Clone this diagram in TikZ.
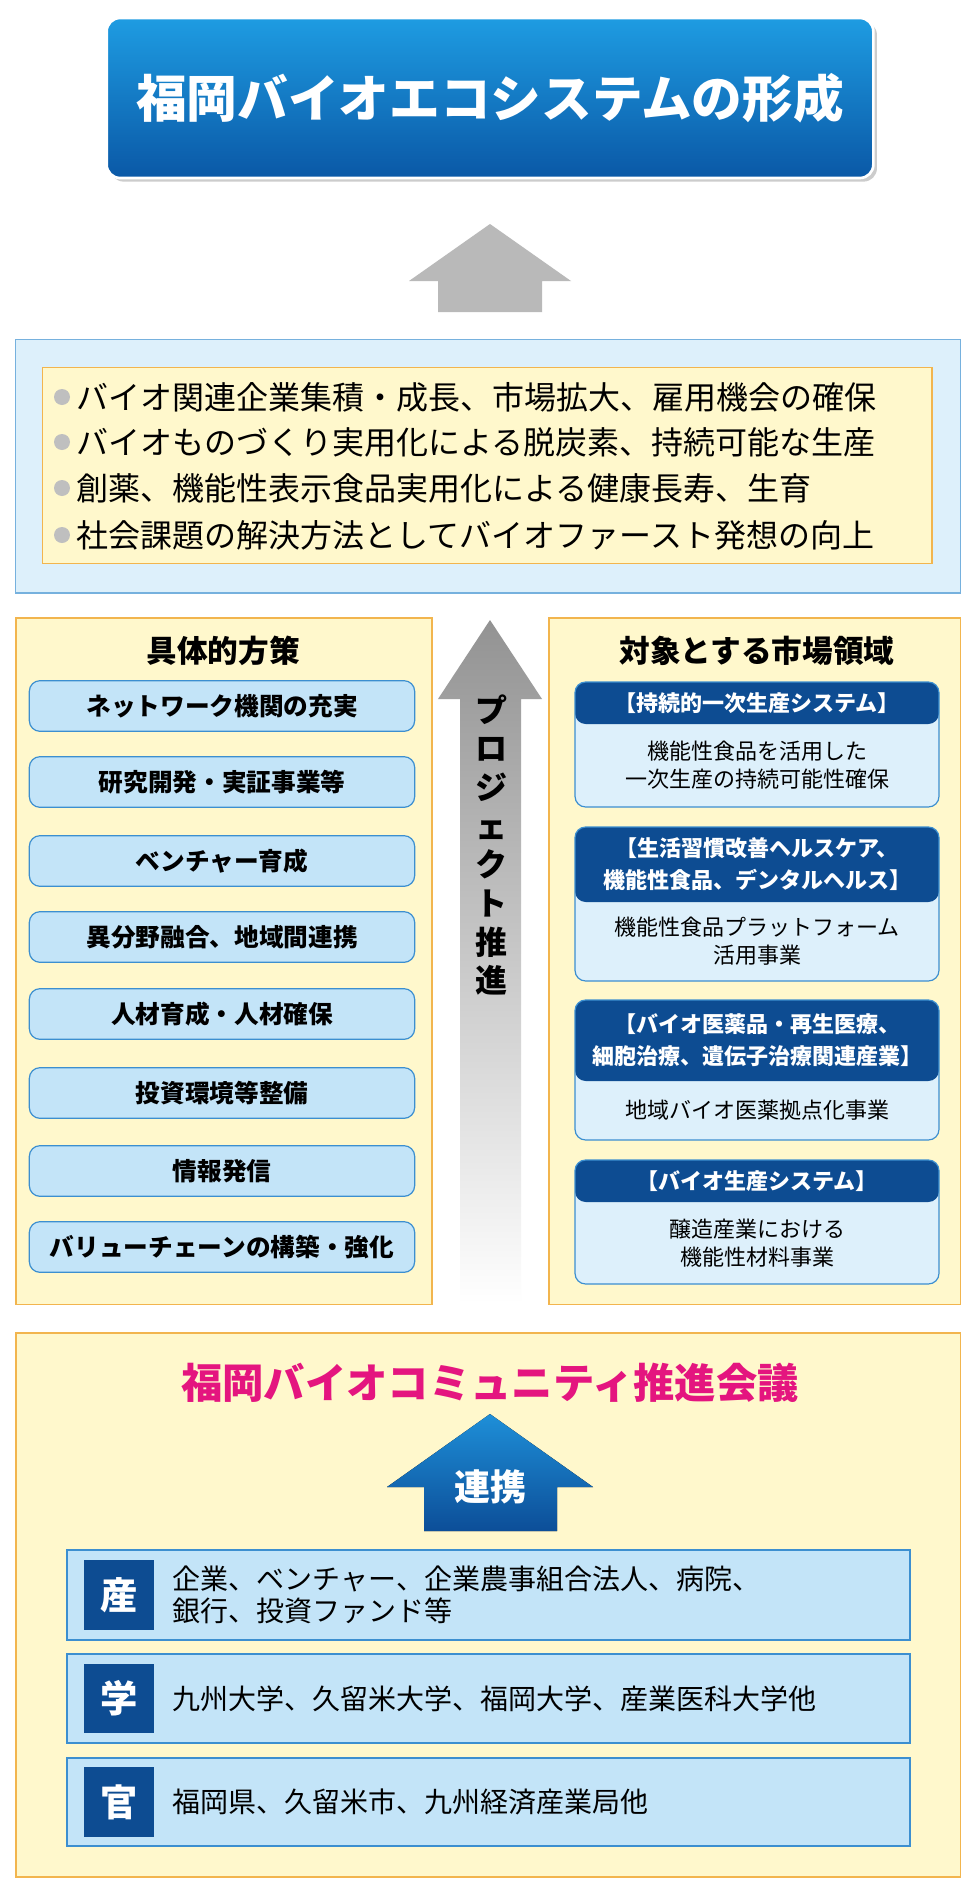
\documentclass[tikz,border=0pt]{standalone}
\usepackage{fontspec}
\setmainfont{Noto Sans CJK JP}
\usetikzlibrary{shadows}
\definecolor{dblue}{HTML}{0D4C92}
\definecolor{lblue}{HTML}{C3E4F8}
\definecolor{pblue}{HTML}{DDF0FB}
\definecolor{bblue}{HTML}{3C8FD0}
\definecolor{ylw}{HTML}{FFF8CC}
\definecolor{org}{HTML}{F2B54E}
\definecolor{mag}{HTML}{E4157F}
\definecolor{ttop}{HTML}{1E9CE2}
\definecolor{tbot}{HTML}{0A58A6}
\definecolor{atop}{HTML}{1E8FD8}
\definecolor{abot}{HTML}{0C4E98}
\tikzset{
 panel/.style={draw=org,line width=1.2pt,fill=ylw},
 item/.style={draw=bblue,line width=0.9pt,fill=lblue,rounded corners=8pt,minimum width=289pt,minimum height=38pt,font=\fontsize{18.5}{20}\selectfont\bfseries,text=black},
 bodytxt/.style={font=\fontsize{16.5}{21}\selectfont,align=center,text=black},
 headtxt/.style={font=\fontsize{16.5}{24}\selectfont\bfseries,align=center,text=white},
 rowbox/.style={draw=bblue,line width=0.9pt,fill=lblue},
 rowch/.style={fill=dblue,text=white,font=\fontsize{28}{28}\selectfont\bfseries,minimum width=52pt,minimum height=52pt},
 rowtxt/.style={font=\fontsize{21}{24}\selectfont,align=left,anchor=west,text=black},
 bul/.style={font=\fontsize{24}{26}\selectfont,anchor=west,text=black}
}
\begin{document}
\begin{tikzpicture}[x=0.75pt,y=-0.75pt]
\useasboundingbox (0,0) rectangle (960,1898);
\fill[white] (0,0) rectangle (960,1898);
% title
\node[rounded corners=10pt,draw=white,line width=2pt,top color=ttop,bottom color=tbot,drop shadow={opacity=0.4},minimum width=575pt,minimum height=120pt,text=white,font=\fontsize{38}{44}\selectfont\bfseries] (title) at (490,98) {福岡バイオエコシステムの形成};
% gray arrow
\fill[gray!55] (490,224) -- (571,281) -- (542,281) -- (542,312) -- (438,312) -- (438,281) -- (409,281) -- cycle;
% goals panel
\node[draw=bblue!70,line width=1pt,fill=pblue,minimum width=709pt,minimum height=190pt,anchor=north west] (goals) at (15,339) {};
\node[draw=org,line width=1pt,fill=ylw,minimum width=667pt,minimum height=147pt,anchor=north west] (goalin) at (42,367) {};
\foreach \y/\t [count=\i] in {397/バイオ関連企業集積・成長、市場拡大、雇用機会の確保,442/バイオものづくり実用化による脱炭素、持続可能な生産,488/創薬、機能性表示食品実用化による健康長寿、生育,535/社会課題の解決方法としてバイオファースト発想の向上}{
 \fill[gray!50] (62,\y) circle (8);
 \node[bul] (g\i) at (72,\y) {\t};
}
% left panel
\node[panel,minimum width=312pt,minimum height=515pt,anchor=north west] (lp) at (15,617) {};
\node[font=\fontsize{23}{24}\selectfont\bfseries] (lpt) at (223,651) {具体的方策};
\foreach \y/\t [count=\i] in {706/ネットワーク機関の充実,782/研究開発・実証事業等,861/ベンチャー育成,937/異分野融合、地域間連携,1014/人材育成・人材確保,1093/投資環境等整備,1171/情報発信,1247/バリューチェーンの構築・強化}{
 \node[item] (l\i) at (222,\y) {\t};
}
% middle arrow
\shade[top color=gray!85,bottom color=white] (490,620) -- (542,699) -- (521,699) -- (521,1304) -- (460,1304) -- (460,699) -- (438,699) -- cycle;
\node[font=\fontsize{24}{29}\selectfont\bfseries,align=center] (pj) at (491,845) {プ\\ロ\\ジ\\ェ\\ク\\ト\\推\\進};
% right panel
\node[panel,minimum width=309pt,minimum height=515pt,anchor=north west] (rp) at (548,617) {};
\node[font=\fontsize{23}{24}\selectfont\bfseries] (rpt) at (757,651) {対象とする市場領域};
\foreach \a/\b/\c/\h/\bd [count=\i] in {682/724/807/{【持続的一次生産システム】}/{機能性食品を活用した\\一次生産の持続可能性確保},827/902/981/{【生活習慣改善ヘルスケア、\\機能性食品、デンタルヘルス】}/{機能性食品プラットフォーム\\活用事業},1000/1081/1140/{【バイオ医薬品・再生医療、\\細胞治療、遺伝子治療関連産業】}/{地域バイオ医薬拠点化事業},1160/1202/1284/{【バイオ生産システム】}/{醸造産業における\\機能性材料事業}}{
 \fill[rounded corners=8pt,fill=pblue] (575,\a) rectangle (939,\c);
 \fill[rounded corners=8pt,fill=dblue] (575,\a) -- (575,\b) -- (939,\b) -- (939,\a) -- cycle;
 \draw[rounded corners=8pt,draw=bblue,line width=0.9pt] (575,\a) rectangle (939,\c);
 \node[headtxt] (h\i) at (757,{(\a+\b)/2}) {\h};
 \node[bodytxt] (b\i) at (757,{(\b+\c)/2}) {\bd};
}
% bottom panel
\node[panel,minimum width=709pt,minimum height=408pt,anchor=north west] (bp) at (15,1332) {};
\node[text=mag,font=\fontsize{31}{34}\selectfont\bfseries] (bpt) at (490,1383) {福岡バイオコミュニティ推進会議};
\fill[top color=atop,bottom color=abot] (490,1414) -- (593,1487) -- (557,1487) -- (557,1531) -- (424,1531) -- (424,1487) -- (387,1487) -- cycle;
\node[text=white,font=\fontsize{27}{28}\selectfont\bfseries] (rk) at (490,1487) {連携};
\foreach \a/\b/\ch/\t [count=\i] in {1550/1640/産/{企業、ベンチャー、企業農事組合法人、病院、\\銀行、投資ファンド等},1654/1743/学/{九州大学、久留米大学、福岡大学、産業医科大学他},1758/1846/官/{福岡県、久留米市、九州経済産業局他}}{
 \draw[rowbox] (67,\a) rectangle (910,\b);
 \node[rowch] (c\i) at (119,{(\a+\b)/2}) {\ch};
 \node[rowtxt] (t\i) at (168,{(\a+\b)/2}) {\t};
}
\end{tikzpicture}
\end{document}
